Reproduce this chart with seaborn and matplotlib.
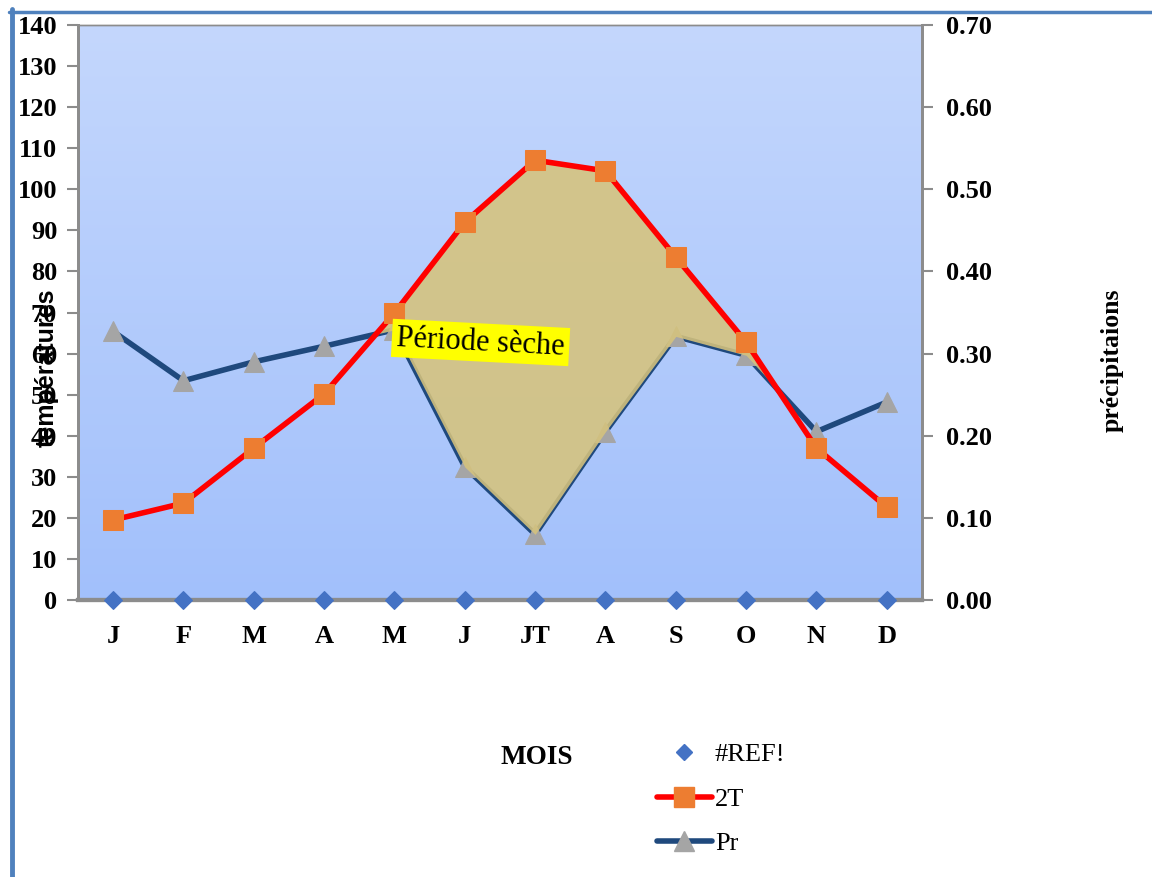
import numpy as np
import matplotlib
matplotlib.use("Agg")
import matplotlib.pyplot as plt
from matplotlib.colors import LinearSegmentedColormap
from matplotlib.lines import Line2D
import seaborn as sns

# ---- data ----
months = ["J", "F", "M", "A", "M", "J", "JT", "A", "S", "O", "N", "D"]
t2 = [19.5, 23.6, 37.0, 50.2, 69.9, 92.0, 107.1, 104.5, 83.5, 62.8, 37.0, 22.6]
pr = [0.327, 0.267, 0.290, 0.309, 0.329, 0.162, 0.080, 0.205, 0.321, 0.298, 0.205, 0.241]
ref = [0] * 12
T_MAX, P_MAX = 140, 0.70
t_ticks = list(range(0, 141, 10))
p_ticks = [0.0, 0.1, 0.2, 0.3, 0.4, 0.5, 0.6, 0.7]

sns.set_style("white")
plt.rcParams["font.family"] = ["Liberation Serif", "DejaVu Serif"]
plt.rcParams["text.color"] = "black"
plt.rcParams["xtick.labelcolor"] = "black"
plt.rcParams["ytick.labelcolor"] = "black"

idx = np.arange(len(months))
t2a = np.array(t2)
pra = np.array(pr)

fig = plt.figure(figsize=(11.52, 8.77), dpi=100)
axP = fig.add_axes([0.0677, 0.3158, 0.7326, 0.6556])
axT = axP.twinx()

# gradient background
cmap = LinearSegmentedColormap.from_list("bg", ["#a2c0fb", "#c4d7fd"])
grad = np.linspace(0, 1, 256).reshape(-1, 1)
axP.imshow(grad, extent=[0, 1, 0, 1], transform=axP.transAxes, aspect="auto",
           cmap=cmap, origin="lower", zorder=0)

# Pr on right axis
sns.lineplot(x=idx, y=pra, ax=axP, color="#1f497d", linewidth=4, marker="^",
             markersize=15, markerfacecolor="#a5a5a5", markeredgecolor="#a5a5a5",
             zorder=3, legend=False)
axP.set_xlim(-0.5, 11.5)
axP.set_ylim(0, P_MAX)

# dry period fill
pr_scaled = pra * (T_MAX / P_MAX)
axT.fill_between(idx, t2a, pr_scaled, where=t2a >= pr_scaled, interpolate=True,
                 color="#d6c37c", alpha=0.88, linewidth=0, zorder=2)

# 2T on left axis
sns.lineplot(x=idx, y=t2a, ax=axT, color="#ff0000", linewidth=4, marker="s",
             markersize=14, markerfacecolor="#ed7d31", markeredgecolor="#ed7d31",
             zorder=3, legend=False)
axT.scatter(idx, ref, marker="D", s=80, color="#4472c4", zorder=5, clip_on=False)
axT.set_ylim(0, T_MAX)
axT.set_xlim(-0.5, 11.5)

# axes / ticks
gray = "#8c8c8c"
FS = 19
axT.yaxis.tick_left()
axP.yaxis.tick_right()
axT.set_yticks(t_ticks)
axT.set_yticklabels([str(v) for v in t_ticks], fontweight="bold", fontsize=FS)
axP.set_yticks(p_ticks)
axP.set_yticklabels([f"{v:.2f}" for v in p_ticks], fontweight="bold", fontsize=FS)
axT.tick_params(axis="y", direction="out", length=8, width=1.5, color=gray, pad=7,
                labelcolor="black")
axP.tick_params(axis="y", direction="out", length=8, width=1.5, color=gray, pad=9,
                labelcolor="black")

axP.set_xticks(idx)
axP.set_xticklabels(months, fontweight="bold", fontsize=FS)
axP.set_xticks(np.arange(-0.5, 12, 1), minor=True)
axP.tick_params(axis="x", which="major", length=0, pad=18, labelcolor="black")
axP.tick_params(axis="x", which="minor", length=6, width=1.5, color=gray)
axT.tick_params(axis="x", which="both", length=0, labelbottom=False, labeltop=False)
axT.set_xlabel("")
axP.set_xlabel("")
axT.set_ylabel("")
axP.set_ylabel("")

for ax in (axP, axT):
    for s in ax.spines.values():
        s.set_color(gray)
    ax.spines["top"].set_linewidth(1)
    ax.spines["left"].set_linewidth(2)
    ax.spines["right"].set_linewidth(2)
    ax.spines["bottom"].set_linewidth(3)
    ax.spines["bottom"].set_zorder(4)
    ax.grid(False)

# texts
axT.text(0.477, 0.448, "Période sèche", transform=axT.transAxes, fontsize=22,
         rotation=-3, ha="center", va="center", zorder=10, color="black",
         bbox=dict(boxstyle="square,pad=0.15", facecolor="#ffff00", edgecolor="none"))
fig.text(47 / 1152, 1 - 368 / 877, "températures", rotation=90, ha="center",
         va="center", fontsize=18, fontweight="bold", color="black",
         family=["Liberation Sans", "DejaVu Sans"])
fig.text(1112 / 1152, 1 - 360 / 877, "précipitaions", rotation=90, ha="center",
         va="center", fontsize=18.5, fontweight="bold", color="black")
fig.text(537 / 1152, 1 - 758 / 877, "MOIS", ha="center", va="center",
         fontsize=19.5, fontweight="bold", color="black")

# legend
handles = [
    Line2D([], [], linestyle="none", marker="D", markersize=8, color="#4472c4"),
    Line2D([], [], color="#ff0000", linewidth=4, marker="s", markersize=14,
           markerfacecolor="#ed7d31", markeredgecolor="#ed7d31", solid_capstyle="round"),
    Line2D([], [], color="#1f497d", linewidth=4, marker="^", markersize=15,
           markerfacecolor="#a5a5a5", markeredgecolor="#a5a5a5", solid_capstyle="round"),
]
leg = fig.legend(handles, ["#REF!", "2T", "Pr"], loc="center left",
                 bbox_to_anchor=(633 / 1152, 1 - 799 / 877), frameon=False, fontsize=19,
                 handlelength=2.1, handletextpad=0.1, labelspacing=0.8)
for t in leg.get_texts():
    t.set_color("black")

# outer frame lines
fig.add_artist(Line2D([11.5 / 1152, 11.5 / 1152], [0, 1 - 9 / 877], color="#4f81bd",
                      linewidth=3.5, transform=fig.transFigure))
fig.add_artist(Line2D([9 / 1152, 1], [1 - 11.5 / 877, 1 - 11.5 / 877], color="#4f81bd",
                      linewidth=2.5, transform=fig.transFigure))

fig.savefig("out.png", dpi=100)
